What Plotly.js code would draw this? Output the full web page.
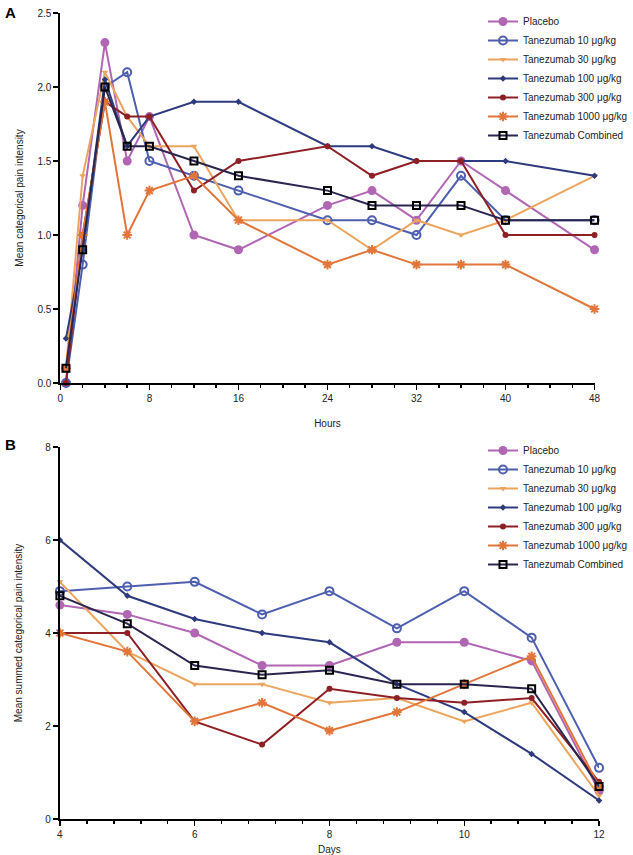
<!DOCTYPE html>
<html>
<head>
<meta charset="utf-8">
<script src="https://cdn.plot.ly/plotly-3.0.1.min.js"></script>
<style>html,body{margin:0;padding:0;background:#fff;}#chart{width:633px;height:855px;}</style>
</head>
<body>
<div id="chart"></div>
<script>
// Panel A: hours
const hoursA = [0.5, 2, 4, 6, 8, 12, 16, 24, 28, 32, 36, 40, 48];
const placeboA   = [0.0, 1.2, 2.3, 1.5, 1.8, 1.0, 0.9, 1.2, 1.3, 1.1, 1.5, 1.3, 0.9];
const tan10A     = [0.0, 0.8, 2.0, 2.1, 1.5, 1.4, 1.3, 1.1, 1.1, 1.0, 1.4, 1.1, 1.1];
const tan30A     = [0.1, 1.4, 2.1, 1.8, 1.6, 1.6, 1.1, 1.1, 0.9, 1.1, 1.0, 1.1, 1.4];
const tan100A    = [0.3, 0.9, 2.05, 1.6, 1.8, 1.9, 1.9, 1.6, 1.6, 1.5, 1.5, 1.5, 1.4];
const tan300A    = [0.0, 1.0, 1.9, 1.8, 1.8, 1.3, 1.5, 1.6, 1.4, 1.5, 1.5, 1.0, 1.0];
const tan1000A   = [0.1, 1.0, 1.9, 1.0, 1.3, 1.4, 1.1, 0.8, 0.9, 0.8, 0.8, 0.8, 0.5];
const combinedA  = [0.1, 0.9, 2.0, 1.6, 1.6, 1.5, 1.4, 1.3, 1.2, 1.2, 1.2, 1.1, 1.1];

// Panel B: days
const daysB = [4, 5, 6, 7, 8, 9, 10, 11, 12];
const placeboB   = [4.6, 4.4, 4.0, 3.3, 3.3, 3.8, 3.8, 3.4, 0.6];
const tan10B     = [4.9, 5.0, 5.1, 4.4, 4.9, 4.1, 4.9, 3.9, 1.1];
const tan30B     = [5.1, 3.6, 2.9, 2.9, 2.5, 2.6, 2.1, 2.5, 0.5];
const tan100B    = [6.0, 4.8, 4.3, 4.0, 3.8, 2.9, 2.3, 1.4, 0.4];
const tan300B    = [4.0, 4.0, 2.1, 1.6, 2.8, 2.6, 2.5, 2.6, 0.8];
const tan1000B   = [4.0, 3.6, 2.1, 2.5, 1.9, 2.3, 2.9, 3.5, 0.7];
const combinedB  = [4.8, 4.2, 3.3, 3.1, 3.2, 2.9, 2.9, 2.8, 0.7];

const seriesNames = ['Placebo', 'Tanezumab 10 \u03bcg/kg', 'Tanezumab 30 \u03bcg/kg',
  'Tanezumab 100 \u03bcg/kg', 'Tanezumab 300 \u03bcg/kg', 'Tanezumab 1000 \u03bcg/kg', 'Tanezumab Combined'];

const styles = [
  {line: '#b066b3', marker: {symbol: 'circle', size: 9, color: '#b066b3'}},
  {line: '#4d5fae', marker: {symbol: 'circle-open', size: 8, color: '#4d5fae', line: {width: 2, color: '#4d5fae'}}},
  {line: '#eba55e', marker: {symbol: 'triangle-down', size: 6, color: '#eba55e'}},
  {line: '#2d3a7d', marker: {symbol: 'diamond', size: 5, color: '#2d3a7d'}},
  {line: '#8e1f24', marker: {symbol: 'circle', size: 6, color: '#8e1f24'}},
  {line: '#e2763a', marker: {symbol: 'asterisk-open', size: 8, color: '#e2763a', line: {width: 2, color: '#e2763a'}}},
  {line: '#2a2650', marker: {symbol: 'square-open', size: 7, color: '#000000', line: {width: 2, color: '#000000'}}}
];

const dataA = [placeboA, tan10A, tan30A, tan100A, tan300A, tan1000A, combinedA];
const dataB = [placeboB, tan10B, tan30B, tan100B, tan300B, tan1000B, combinedB];

const traces = [];
dataA.forEach((ys, i) => {
  traces.push({
    x: hoursA, y: ys, name: seriesNames[i], type: 'scatter', mode: 'lines+markers',
    xaxis: 'x', yaxis: 'y', legend: 'legend', cliponaxis: false,
    line: {color: styles[i].line, width: 2}, marker: styles[i].marker
  });
});
dataB.forEach((ys, i) => {
  traces.push({
    x: daysB, y: ys, name: seriesNames[i], type: 'scatter', mode: 'lines+markers',
    xaxis: 'x2', yaxis: 'y2', legend: 'legend2', cliponaxis: false,
    line: {color: styles[i].line, width: 2}, marker: styles[i].marker
  });
});

const font = {family: 'Liberation Sans, Arial, sans-serif', size: 10, color: '#222'};
const axisCommon = {
  showgrid: false, zeroline: false, showline: true, linecolor: '#000', linewidth: 2,
  ticks: 'outside', ticklen: 5, tickwidth: 1.5, tickcolor: '#000',
  tickfont: {family: font.family, size: 10, color: '#222'}
};

const layout = {
  width: 633, height: 855,
  margin: {l: 0, r: 0, t: 0, b: 0},
  paper_bgcolor: '#fff', plot_bgcolor: '#fff',
  font: font,
  xaxis: Object.assign({}, axisCommon, {
    domain: [60.5/633, 595.5/633], range: [0, 48], tick0: 0, dtick: 8, anchor: 'y',
    minor: {dtick: 2, ticks: 'outside', ticklen: 3, tickwidth: 1.5, tickcolor: '#000'},
    title: {text: 'Hours', font: {family: font.family, size: 10, color: '#222'}, standoff: 17}
  }),
  yaxis: Object.assign({}, axisCommon, {
    domain: [1 - 383/855, 1 - 13/855], range: [0, 2.5], dtick: 0.5, tickformat: '.1f', anchor: 'x',
    title: {text: 'Mean categorical pain intensity', font: {family: font.family, size: 10, color: '#222'}, standoff: 12}
  }),
  xaxis2: Object.assign({}, axisCommon, {
    domain: [60/633, 600/633], range: [4, 12], tick0: 4, dtick: 2, anchor: 'y2',
    minor: {dtick: 0.4, ticks: 'outside', ticklen: 3, tickwidth: 1.5, tickcolor: '#000'},
    title: {text: 'Days', font: {family: font.family, size: 10, color: '#222'}, standoff: 13}
  }),
  yaxis2: Object.assign({}, axisCommon, {
    domain: [1 - 819/855, 1 - 447/855], range: [0, 8], dtick: 2, anchor: 'x2',
    title: {text: 'Mean summed categorical pain intensity', font: {family: font.family, size: 10, color: '#222'}, standoff: 21}
  }),
  legend: {x: 484/633, y: 1 - 7/855, xanchor: 'left', yanchor: 'top', bgcolor: 'rgba(0,0,0,0)',
    font: {family: font.family, size: 10, color: '#222'}, itemwidth: 30},
  legend2: {x: 484/633, y: 1 - 436/855, xanchor: 'left', yanchor: 'top', bgcolor: 'rgba(0,0,0,0)',
    font: {family: font.family, size: 10, color: '#222'}, itemwidth: 30},
  annotations: [
    {text: '<b>A</b>', x: 3/633, y: 1 - 2/855, xref: 'paper', yref: 'paper', xanchor: 'left', yanchor: 'top', showarrow: false,
      font: {family: font.family, size: 15, color: '#000'}},
    {text: '<b>B</b>', x: 3/633, y: 1 - 434/855, xref: 'paper', yref: 'paper', xanchor: 'left', yanchor: 'top', showarrow: false,
      font: {family: font.family, size: 15, color: '#000'}}
  ]
};

Plotly.newPlot('chart', traces, layout, {displayModeBar: false, staticPlot: true});
</script>
</body>
</html>
